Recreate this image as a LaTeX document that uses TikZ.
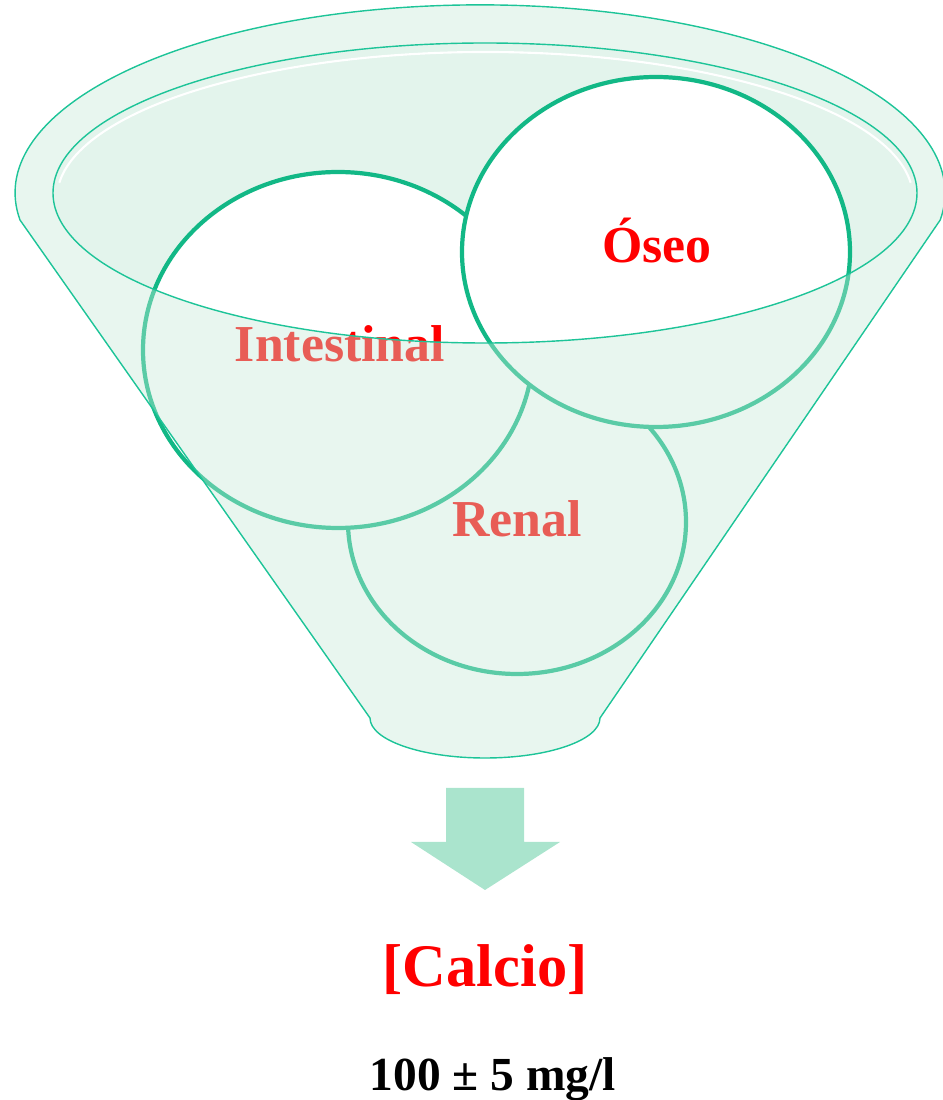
\documentclass[tikz,border=0pt]{standalone}
\usepackage{fontspec}
\setmainfont{Liberation Serif}
\usepackage{xcolor}
\definecolor{rimline}{HTML}{1DC498}
\definecolor{ringgreen}{HTML}{12B886}
\definecolor{bowlfill}{HTML}{E3F4EC}
\definecolor{glassfill}{HTML}{C6E9D7}
\definecolor{arrowgreen}{HTML}{AAE4CD}
\definecolor{calred}{HTML}{FF0000}
\newcommand{\funnelpath}{(20,880) arc[start angle=188.3, end angle=-8.3, x radius=465, y radius=188]
    -- (600,382) arc[start angle=0, end angle=-180, x radius=115, y radius=40] -- cycle}

\begin{document}
\begin{tikzpicture}[
    x=0.02cm, y=0.02cm,
    ring/.style={draw=ringgreen, line width=2.4pt, fill=white},
    rimstroke/.style={draw=rimline, line width=0.8pt},
    zonelabel/.style={text=calred, font=\fontsize{29.5}{32}\selectfont\bfseries, anchor=base, inner sep=0pt},
]
    \useasboundingbox (0,0) rectangle (943,1100);
    \fill[bowlfill] (485,907) ellipse[x radius=432, y radius=150];

    \path[ring] (517,578) ellipse[x radius=169, y radius=152];
    \path[ring] (338,750) ellipse[x radius=195, y radius=178];
    \path[ring] (656,848) ellipse[x radius=194, y radius=175];

    \node[zonelabel] (oseo) at (657,837) {Óseo};
    \node[zonelabel] (intestinal) at (340,738) {Intestinal};
    \node[zonelabel] (renal) at (517,563) {Renal};

    \fill[glassfill, fill opacity=0.4, even odd rule] \funnelpath
        (485,907) ellipse[x radius=432, y radius=150];
    \path[rimstroke] \funnelpath;
    \path[rimstroke] (485,907) ellipse[x radius=432, y radius=150];
    \draw[white, line width=1.2pt] (485,902) +(6:428 and 146) arc[start angle=6, end angle=174, x radius=428, y radius=146];

    \fill[arrowgreen] (446,312) -- (524,312) -- (524,258) -- (560,258) -- (485,210) -- (411,258) -- (446,258) -- cycle;

    \node[text=calred, font=\fontsize{34.4}{38}\selectfont\bfseries, anchor=base, inner sep=0pt] (calcio) at (485,113) {[Calcio]};
    \node[font=\fontsize{27}{30}\selectfont\bfseries, anchor=base, inner sep=0pt] (valor) at (493,10) {100 ± 5 mg/l};
\end{tikzpicture}
\end{document}
